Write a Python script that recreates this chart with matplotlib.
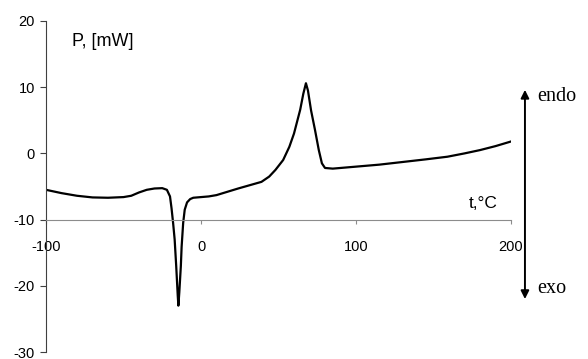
import matplotlib.pyplot as plt

# DSC trace: temperature (deg C) vs heat flow (mW)
temp = [-100, -90, -80, -70, -60, -50, -45, -40, -35, -30, -25, -22, -20,
        -19, -18, -17, -16, -15, -14.6, -14, -13, -12.5, -11.5, -10.5, -9,
        -7, -5, 0, 5, 10, 17, 24, 30, 39, 44, 48, 53, 57, 60, 64, 66, 67.7,
        69, 71, 73.5, 76, 78, 80, 85, 100, 115, 130, 145, 159, 170, 180,
        190, 200]
power = [-5.5, -6.0, -6.4, -6.65, -6.7, -6.6, -6.4, -5.9, -5.5, -5.3, -5.25,
         -5.5, -6.5, -8.3, -10.5, -13.0, -17.0, -21.5, -23.0, -21.0, -17.0,
         -14.1, -10.5, -8.5, -7.4, -6.9, -6.7, -6.6, -6.5, -6.3, -5.8, -5.3,
         -4.9, -4.3, -3.5, -2.5, -1.0, 1.0, 3.0, 6.6, 9.0, 10.6, 9.5, 6.5,
         3.6, 0.5, -1.5, -2.2, -2.3, -2.0, -1.7, -1.3, -0.9, -0.5, 0.0, 0.5,
         1.1, 1.8]

xticks = [-100, 0, 100, 200]
yticks = [-30, -20, -10, 0, 10, 20]

plt.rcParams['font.family'] = ['Liberation Sans', 'DejaVu Sans']
plt.rcParams['axes.unicode_minus'] = False

fig = plt.figure(figsize=(5.88, 3.59), dpi=100)
ax = fig.add_axes([46 / 588, 7 / 359, 465 / 588, 331 / 359])

ax.plot(temp, power, color='black', lw=1.6)

ax.set_xlim(-100, 200)
ax.set_ylim(-30, 20)
ax.set_xticks(xticks)
ax.set_yticks(yticks)

for side in ('top', 'right'):
    ax.spines[side].set_visible(False)
ax.spines['bottom'].set_position(('data', -10))
ax.spines['bottom'].set_color('#8c8c8c')
ax.spines['left'].set_color('#404040')
ax.tick_params(axis='x', direction='out', length=3, width=0.8,
               color='#8c8c8c', pad=11.5, labelsize=10.5)
ax.tick_params(axis='y', direction='out', length=4, width=0.8,
               color='#404040', pad=4, labelsize=10.5)

ax.text(-83, 16.9, 'P, [mW]', fontsize=13, va='center', ha='left')
ax.text(173, -7.5, 't,°C', fontsize=12.5, va='center', ha='left')

# endo / exo direction arrow on the right
ax.annotate('', xy=(209, 9.6), xytext=(209, -22.0),
            arrowprops=dict(arrowstyle='<|-|>', color='black', lw=1.4,
                            mutation_scale=12, shrinkA=0, shrinkB=0),
            annotation_clip=False)
ax.text(217, 8.6, 'endo', fontsize=14.5, family='Liberation Serif',
        va='center', ha='left', clip_on=False)
ax.text(217, -20.4, 'exo', fontsize=14.5, family='Liberation Serif',
        va='center', ha='left', clip_on=False)

fig.savefig('out.png', dpi=100)
